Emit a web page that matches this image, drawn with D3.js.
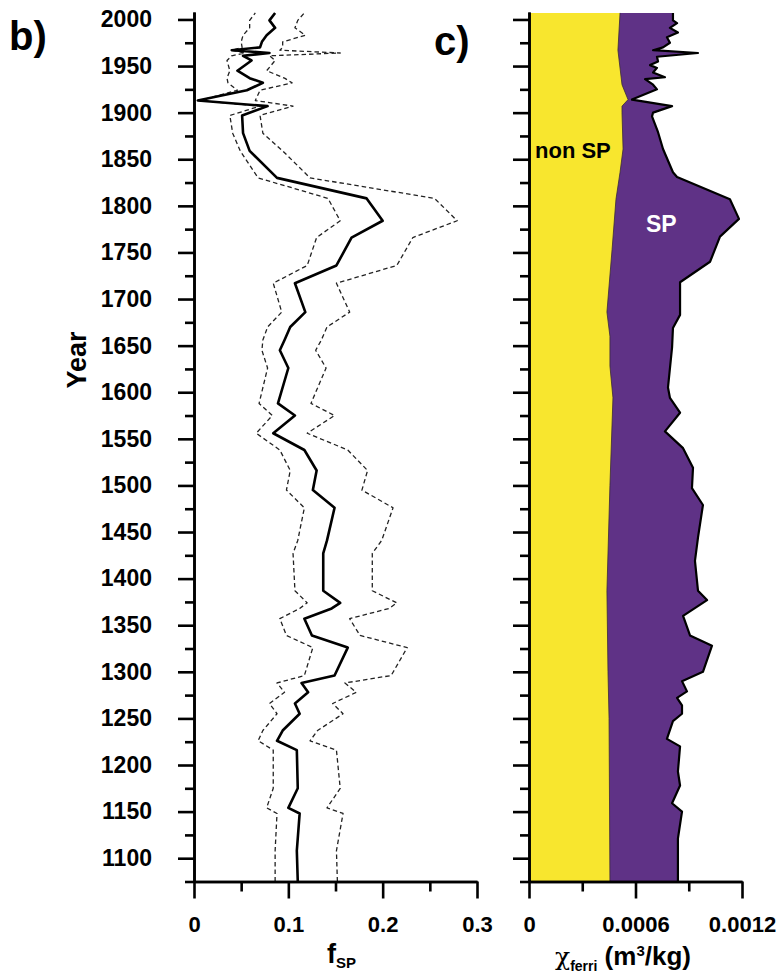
<!DOCTYPE html>
<html>
<head>
<meta charset="utf-8">
<script src="https://cdn.jsdelivr.net/npm/d3@7/dist/d3.min.js"></script>
<style>
  html, body { margin: 0; padding: 0; background: #fff; }
  svg { display: block; font-family: "Liberation Sans", Arial, sans-serif; }
</style>
</head>
<body>
<script>
// ---- Panel b: SP fraction through time (mean and confidence bounds) ----
const bYears = [1075,1108,1148,1154,1175,1216,1226,1237,1255,1266,1278,1288,1296,1326,1339,1357,1368,1374,1387,1427,1441,1476,1495,1516,1538,1556,1575,1588,1626,1645,1656,1670,1686,1717,1736,1766,1784,1808,1830,1859,1878,1897,1907,1913,1924,1932,1937,1945,1956,1961,1964,1967,1970,1976,1983,1991,1999,2007];
const fMean = [0.110,0.109,0.112,0.100,0.110,0.109,0.088,0.094,0.112,0.107,0.121,0.114,0.149,0.163,0.125,0.117,0.146,0.155,0.137,0.137,0.141,0.149,0.126,0.130,0.117,0.084,0.107,0.089,0.100,0.091,0.096,0.102,0.118,0.107,0.151,0.167,0.200,0.183,0.088,0.059,0.052,0.051,0.078,0.004,0.056,0.073,0.059,0.046,0.061,0.052,0.080,0.040,0.070,0.072,0.077,0.086,0.080,0.086];
const fHigh = [0.152,0.151,0.158,0.141,0.155,0.151,0.123,0.131,0.158,0.147,0.172,0.160,0.209,0.226,0.176,0.165,0.207,0.215,0.189,0.189,0.199,0.211,0.178,0.184,0.163,0.120,0.149,0.124,0.140,0.129,0.135,0.141,0.165,0.151,0.215,0.232,0.279,0.255,0.123,0.094,0.073,0.070,0.105,0.065,0.070,0.104,0.096,0.077,0.086,0.080,0.155,0.091,0.094,0.094,0.118,0.107,0.110,0.117];
const fLow  = [0.086,0.086,0.088,0.077,0.084,0.084,0.068,0.073,0.088,0.080,0.096,0.088,0.117,0.126,0.098,0.091,0.112,0.120,0.107,0.105,0.110,0.117,0.098,0.102,0.091,0.066,0.083,0.069,0.078,0.072,0.073,0.078,0.093,0.084,0.120,0.130,0.155,0.142,0.068,0.049,0.041,0.038,0.070,0.006,0.046,0.036,0.035,0.038,0.035,0.040,0.054,0.040,0.051,0.050,0.052,0.059,0.059,0.065];

// ---- Panel c: ferrimagnetic susceptibility (units of 1e-4 m3/kg) ----
const cYears = [1075,1086,1121,1150,1159,1178,1193,1220,1228,1247,1255,1264,1272,1279,1290,1300,1328,1339,1360,1377,1387,1419,1444,1479,1497,1519,1540,1558,1578,1594,1605,1648,1669,1683,1718,1740,1767,1786,1807,1831,1836,1861,1879,1896,1900,1907,1914,1925,1930,1936,1938,1943,1948,1951,1955,1960,1964,1967,1970,1975,1981,1986,1991,1996,1999,2007];
const chiTotal = [8.39,8.39,8.39,8.62,8.06,8.51,8.39,8.51,7.77,8.11,8.62,8.62,8.34,8.90,8.62,9.80,10.31,9.07,8.68,10.03,9.52,9.35,9.52,9.80,9.18,9.24,8.68,7.66,8.51,7.94,7.83,8.06,8.11,8.51,8.51,10.20,10.76,11.83,11.32,8.34,8.11,7.55,7.27,6.93,6.99,8.06,5.80,7.21,6.99,6.54,7.66,6.99,7.21,6.82,7.27,7.21,9.52,6.99,7.55,7.94,7.77,8.39,7.94,8.34,8.11,8.11];
const nsYears = [1075,1250,1300,1387,1500,1594,1628,1660,1686,1753,1807,1836,1861,1900,1907,1914,1930,1967,2007];
const chiNonSP = [4.56,4.51,4.45,4.39,4.56,4.73,4.56,4.56,4.39,4.68,4.90,5.13,5.30,5.24,5.24,5.58,5.24,5.01,5.13];

// ---- Tick values ----
const yearMajor = d3.range(1100, 2001, 50);
const yearMinor = d3.range(1075, 2000, 50);
const fMajor = [0, 0.1, 0.2, 0.3];
const fMinor = [0.05, 0.15, 0.25];
const chiMajor = [0, 6, 12];
const chiMinor = [3, 9];

const W = 780, H = 979;
const FONT = '"Liberation Sans", Arial, sans-serif';
const svg = d3.select("body").append("svg").attr("width", W).attr("height", H);
svg.append("rect").attr("width", W).attr("height", H).attr("fill", "#fff");

const y = d3.scaleLinear().domain([1075, 2008]).range([881.5, 12]);
const xb = d3.scaleLinear().domain([0, 0.3]).range([194, 477]);
const xc = d3.scaleLinear().domain([0, 12]).range([529, 742]);

const rows = (years, vals) => years.map((yr, i) => ({ year: yr, v: vals[i] }));

// ---------- Panel b lines ----------
const lineB = d3.line().x(d => xb(d.v)).y(d => y(d.year));
const gb = svg.append("g");
[fLow, fHigh].forEach(vals => {
  gb.append("path").datum(rows(bYears, vals))
    .attr("d", lineB).attr("fill", "none")
    .attr("stroke", "#222").attr("stroke-width", 1.3)
    .attr("stroke-dasharray", "4.5,3").attr("stroke-linejoin", "round");
});
gb.append("path").datum(rows(bYears, fMean))
  .attr("d", lineB).attr("fill", "none")
  .attr("stroke", "#000").attr("stroke-width", 2.6).attr("stroke-linejoin", "round");

// ---------- Panel c areas ----------
const gc = svg.append("g");
const areaC = d3.area().y(d => y(d.year)).x0(xc(0)).x1(d => xc(d.v));
gc.append("path").datum(rows(cYears, chiTotal)).attr("d", areaC).attr("fill", "#5f3286");
gc.append("path").datum(rows(nsYears, chiNonSP)).attr("d", areaC).attr("fill", "#f8e62e");
gc.append("path").datum(rows(nsYears, chiNonSP))
  .attr("d", d3.line().x(d => xc(d.v)).y(d => y(d.year)))
  .attr("fill", "none").attr("stroke", "#3a2a3a").attr("stroke-width", 0.8);
gc.append("path").datum(rows(cYears, chiTotal))
  .attr("d", d3.line().x(d => xc(d.v)).y(d => y(d.year)))
  .attr("fill", "none").attr("stroke", "#000").attr("stroke-width", 2.2).attr("stroke-linejoin", "round");

// ---------- Axes ----------
function styleAxis(g, sw) {
  g.selectAll("path, line").attr("stroke", "#000").attr("stroke-width", sw);
  g.selectAll("text").attr("fill", "#000").attr("font-family", FONT).attr("font-weight", "bold");
}

function yAxes(x0, labels) {
  const minor = svg.append("g").attr("transform", `translate(${x0},0)`)
    .call(d3.axisLeft(y).tickValues(yearMinor).tickSize(9).tickSizeOuter(0).tickFormat(""));
  styleAxis(minor, 2.6);
  const major = svg.append("g").attr("transform", `translate(${x0},0)`)
    .call(d3.axisLeft(y).tickValues(yearMajor).tickSize(16).tickSizeOuter(0).tickPadding(26)
      .tickFormat(labels ? d3.format("d") : ""));
  styleAxis(major, 2.6);
  major.selectAll("text").attr("font-size", 23);
}

function xAxes(scale, majorVals, minorVals, fmt) {
  const x0 = 881.5;
  const minor = svg.append("g").attr("transform", `translate(0,${x0})`)
    .call(d3.axisBottom(scale).tickValues(minorVals).tickSize(10).tickSizeOuter(0).tickFormat(""));
  styleAxis(minor, 2.6);
  const major = svg.append("g").attr("transform", `translate(0,${x0})`)
    .call(d3.axisBottom(scale).tickValues(majorVals).tickSize(17).tickSizeOuter(0).tickPadding(18).tickFormat(fmt));
  styleAxis(major, 2.6);
  major.selectAll("text").attr("font-size", 22);
}

yAxes(xb(0), true);
xAxes(xb, fMajor, fMinor, d => d === 0 ? "0" : d3.format(".1f")(d));
yAxes(xc(0), false);
xAxes(xc, chiMajor, chiMinor, d => d === 0 ? "0" : (d * 1e-4).toFixed(4));

// ---------- Labels ----------
const txt = (x, yy, s, size, opts = {}) => svg.append("text")
  .attr("x", x).attr("y", yy).text(s)
  .attr("font-family", FONT).attr("font-weight", opts.weight || "bold")
  .attr("font-size", size).attr("fill", opts.fill || "#000")
  .attr("text-anchor", opts.anchor || "start");

txt(9, 50, "b)", 40);
txt(434, 55, "c)", 40);

svg.append("text").attr("transform", "translate(86,360) rotate(-90)")
  .attr("text-anchor", "middle").attr("font-family", FONT).attr("font-weight", "bold")
  .attr("font-size", 27).text("Year");

// f_SP axis title
const fLab = svg.append("text").attr("x", 327).attr("y", 963)
  .attr("font-family", FONT).attr("font-weight", "bold").attr("fill", "#000");
fLab.append("tspan").attr("font-size", 27).text("f");
fLab.append("tspan").attr("font-size", 15).attr("dy", 5).text("SP");

// chi_ferri axis title
const cLab = svg.append("text").attr("x", 555).attr("y", 965)
  .attr("font-family", FONT).attr("font-weight", "bold").attr("fill", "#000");
cLab.append("tspan").attr("font-size", 25).attr("font-weight", "normal").attr("font-family", '"DejaVu Serif", serif').text("χ");
cLab.append("tspan").attr("font-size", 14).attr("dy", 6).text("ferri");
cLab.append("tspan").attr("font-size", 26).attr("dy", -6).text(" (m");
cLab.append("tspan").attr("font-size", 15).attr("dy", -9).text("3");
cLab.append("tspan").attr("font-size", 26).attr("dy", 9).text("/kg)");

txt(535, 158, "non SP", 22);
txt(646, 232, "SP", 23, { fill: "#fff" });
</script>
</body>
</html>
